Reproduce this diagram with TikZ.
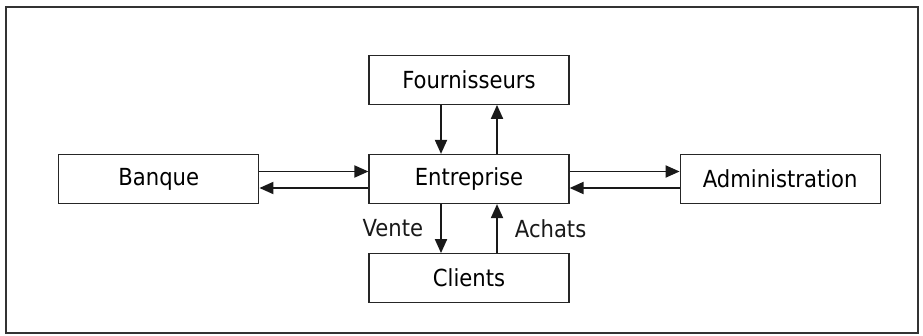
\documentclass[tikz,border=0pt]{standalone}
\usepackage{fontspec}
\setmainfont{DejaVu Sans Condensed}
\usepackage{tikz}
\usetikzlibrary{arrows.meta,positioning}

\begin{document}
\begin{tikzpicture}[
    x=1pt,y=1pt,
    node distance=49pt and 109pt,
    acteur/.style={draw=black!85,line width=1.2pt,minimum width=200pt,minimum height=49pt,inner sep=0pt,font=\fontsize{23.5}{27}\selectfont},
    flux/.style={line width=1.9pt,black!90,-{Triangle[length=14pt,width=12pt]}},
    etiquette/.style={font=\fontsize{23.5}{27}\selectfont,inner sep=0pt}
  ]
    % cadre
    \useasboundingbox (0,0) rectangle (923,335);
    \draw[line width=1.4pt,black!80] (6,2) rectangle (918,328);

    \node[acteur] (ent) at (469,156) {Entreprise};
    \node[acteur,above=of ent] (four) {Fournisseurs};
    \node[acteur,below=of ent] (cli) {Clients};
    \node[acteur,left=of ent] (ban) {Banque};
    \node[acteur,right=110pt of ent] (adm) {Administration};

    \draw[flux] ([xshift=-28pt]four.south) -- ([xshift=-28pt]ent.north);
    \draw[flux] ([xshift=28pt]ent.north) -- ([xshift=28pt]four.south);
    \draw[flux] ([xshift=-28pt]ent.south) -- node[etiquette,left=17pt] {Vente} ([xshift=-28pt]cli.north);
    \draw[flux] ([xshift=28pt]cli.north) -- node[etiquette,right=17pt] {Achats} ([xshift=28pt]ent.south);
    \draw[flux] ([yshift=7.5pt]ban.east) -- ([yshift=7.5pt]ent.west);
    \draw[flux] ([yshift=-9pt]ent.west) -- ([yshift=-9pt]ban.east);
    \draw[flux] ([yshift=7.5pt]ent.east) -- ([yshift=7.5pt]adm.west);
    \draw[flux] ([yshift=-9pt]adm.west) -- ([yshift=-9pt]ent.east);
  \end{tikzpicture}
\end{document}
